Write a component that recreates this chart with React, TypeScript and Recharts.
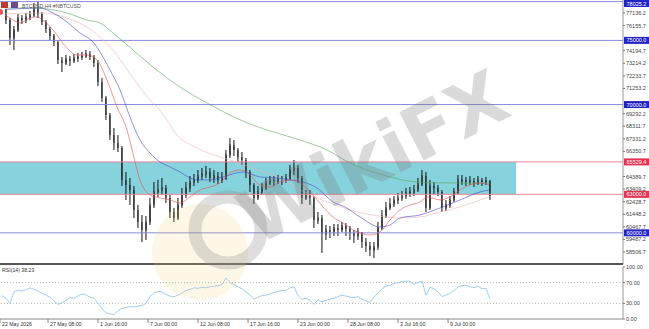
import React from 'react';
import { ComposedChart, LineChart, Bar, Line, XAxis, YAxis, ReferenceLine, ReferenceArea } from 'recharts';

// H4 candles
const firstOpen = 77526;
const closes = [
  77370, 76590, 75187, 75811, 76746, 76590, 76824, 76980, 77448, 77058,
  76434, 75889, 75343, 74875, 73473, 73239, 73551, 73395, 73628, 73706,
  73784, 73940, 73706, 73239, 71758, 70511, 69186, 67627, 67004, 66614,
  64120, 63730, 63340, 61782, 60846, 60223, 60846, 62171, 63185, 63340,
  63496, 62717, 61626, 61158, 62171, 62951, 63496, 63964, 64120, 64432,
  64587, 64743, 64276, 64432, 64120, 64276, 66068, 66848, 66458, 65912,
  65679, 64743, 63730, 62717, 63185, 63496, 63886, 64120, 64042, 64198,
  64120, 64276, 64899, 65055, 64276, 62717, 63029, 62717, 61002, 61158,
  59911, 60223, 60067, 60379, 60223, 60535, 60301, 59989, 59755, 60067,
  59288, 58976, 58664, 58898, 60379, 61314, 61938, 62249, 62561, 62717,
  62873, 63107, 63185, 63340, 63808, 64432, 61938, 63652, 63496, 63185,
  61938, 62171, 62561, 63185, 64120, 64120, 63964, 64042, 63886, 64120,
  63964, 64042, 62873,
];
const highs = [
  77603, 77448, 76746, 76123, 77058, 76980, 77136, 77292, 77915, 77993,
  77214, 76590, 76045, 75499, 75031, 73706, 73862, 73784, 73940, 74018,
  74096, 74252, 74174, 73862, 73473, 72070, 70667, 69342, 68173, 67627,
  66770, 64743, 64276, 63652, 62171, 61392, 61314, 62717, 63964, 64120,
  64276, 63730, 62951, 61938, 62717, 63496, 63964, 64432, 64587, 64899,
  65055, 65211, 65055, 64899, 64743, 64743, 66458, 67393, 67237, 66614,
  66302, 65834, 64899, 63886, 63652, 63886, 64276, 64432, 64432, 64510,
  64432, 64587, 65289, 65679, 65289, 64432, 63340, 63340, 62873, 61626,
  61392, 60613, 60535, 60690, 60690, 60846, 60768, 60535, 60223, 60379,
  60067, 59599, 59288, 59288, 60846, 61782, 62405, 62717, 62873, 63107,
  63262, 63496, 63574, 63730, 64276, 64899, 64743, 64120, 63964, 63730,
  63340, 62561, 62873, 63496, 64510, 64510, 64354, 64432, 64276, 64432,
  64276, 64354, 64120,
];
const lows = [
  77058, 76278, 74642, 74252, 75655, 76278, 76356, 76590, 76824, 76746,
  76200, 75577, 75031, 74564, 73161, 72537, 73083, 73005, 73239, 73317,
  73473, 73628, 73473, 72927, 71446, 70199, 68796, 67237, 66458, 66302,
  63652, 62561, 62171, 61158, 60379, 59288, 59443, 60613, 61938, 62795,
  62951, 62327, 61158, 60846, 61002, 61938, 62717, 63185, 63652, 63886,
  64120, 64276, 63964, 63886, 63808, 63886, 64120, 65834, 65990, 65523,
  65289, 64276, 63185, 62249, 62561, 62951, 63340, 63730, 63652, 63808,
  63730, 63886, 64120, 64510, 63886, 62249, 62561, 62171, 60379, 60690,
  58430, 59443, 59599, 59755, 59755, 60067, 59755, 59443, 59210, 59443,
  58820, 58508, 58196, 58041, 58664, 60223, 61158, 61782, 62015, 62249,
  62483, 62639, 62795, 62873, 63185, 63652, 61626, 61782, 63029, 62873,
  61626, 61704, 61938, 62405, 63029, 63730, 63652, 63730, 63574, 63730,
  63652, 63730, 62561,
];

const rsiValues = [
  45, 40, 30, 52, 55, 54, 56, 60, 57, 54,
  49, 46, 42, 35, 28, 31, 36, 41, 40, 45,
  48, 46, 42, 40, 30, 20, 12, 10, 8, 16,
  20, 22, 24, 23, 25, 26, 30, 44, 50, 53,
  52, 47, 44, 43, 46, 50, 55, 57, 60, 59,
  61, 60, 62, 63, 64, 66, 79, 70, 66, 62,
  58, 52, 46, 38, 42, 45, 46, 48, 51, 53,
  55, 55, 60, 62, 45, 38, 40, 36, 28, 37,
  33, 36, 38, 40, 43, 46, 44, 42, 41, 43,
  38, 35, 32, 42, 50, 58, 63, 65, 68, 70,
  72, 73, 72, 67, 70, 73, 46, 61, 58, 52,
  43, 46, 50, 55, 62, 64, 65, 62, 60, 63,
  58, 59, 38.23,
];

// moving averages: [bar index, price]
const maRed = [
  [-0.5, 77214], [2, 76746], [4.5, 76356], [7, 76746], [8.75, 76824], [10.25, 76590],
  [12.75, 75811], [16.25, 74408], [18.75, 73862], [21.25, 73862], [23.75, 73473],
  [26.25, 71914], [28.75, 69809], [31.25, 68017], [32.5, 66500], [34.5, 64120],
  [37, 62951], [39.5, 62717], [42, 62561], [44.5, 62327], [47, 62795], [49.5, 63340],
  [52, 63574], [54.5, 63886], [57, 64665], [59.5, 64899], [61.25, 64743], [64.5, 63730],
  [67, 63574], [69.5, 63964], [72.75, 64120], [75.25, 63730], [77.75, 62951],
  [80.25, 62016], [82.75, 61236], [85.25, 60769], [87, 60379], [89.5, 59989],
  [92, 59833], [94.5, 60067], [97, 61002], [99.5, 61782], [102, 62171], [104.5, 62405],
  [106.25, 62795], [109.5, 62561], [112, 62795], [114.5, 63340], [117, 63730],
  [119.5, 63886], [121.75, 63730],
];
const maBlue = [
  [-0.5, 77370], [9.5, 77525], [12.75, 77136], [16.25, 76434], [19.5, 75577],
  [22.75, 74876], [25.25, 73706], [27, 72693], [29.5, 71135], [32, 69030],
  [34.5, 67237], [37, 66224], [39.5, 65523], [42, 65133], [44.5, 64743], [47, 64276],
  [49.5, 64120], [52, 64120], [55.25, 64354], [60.25, 64743], [64.5, 64354],
  [68.75, 64276], [72, 64120], [75.25, 63964], [78.75, 63496], [82.75, 62405],
  [85.75, 62016], [89.5, 61236], [94.5, 60457], [97, 60613], [99.5, 61158],
  [104.5, 61392], [109.5, 61938], [114.5, 62561], [119.5, 63184], [121.75, 63340],
];
const maPink = [
  [-0.5, 77058], [10.25, 77136], [16.25, 76746], [21.25, 76044], [24.5, 75265],
  [27.75, 74252], [32.75, 72070], [37, 70355], [39.5, 69576], [43.75, 67627],
  [48.75, 66614], [54.5, 65912], [57, 65679], [62, 65133], [68.75, 64354],
  [77, 62951], [82, 62327], [87, 61782], [94.5, 61300], [99.5, 61158],
  [104.5, 61236], [109.5, 61626], [114.5, 62016], [119.5, 62561], [121.75, 62795],
];
const maGreen = [
  [-0.5, 77525], [7.75, 77525], [16.25, 77136], [21.25, 76590], [24.5, 76356],
  [27.75, 75577], [32.75, 74252], [37.75, 72927], [44.5, 71368], [51.25, 70121],
  [54.5, 69576], [60.75, 68640], [66.25, 68017], [74.5, 67237], [81.25, 66458],
  [87, 65445], [95.25, 64510], [103.75, 63964], [112, 63886], [121.75, 63886],
];

const blueLevels = [78025.2, 75000.0, 70000.0, 60000.0];
const redLevels = [65529.4, 63000.0];
const zoneLow = 63000.0;
const zoneHigh = 65529.4;
const zoneEnd = 128.5;

const priceTicks = [
  77136.2, 76155.7, 74194.7, 73214.2, 72233.7, 71253.2, 69292.2, 68311.7,
  67331.2, 66350.7, 64389.7, 63409.2, 62428.7, 61448.2, 60467.7, 59487.2, 58506.7,
];
const rsiTicks = [0, 30, 70, 100];
const timeLabels = [
  '22 May 2026', '27 May 08:00', '1 Jun 16:00', '7 Jun 00:00', '12 Jun 08:00',
  '17 Jun 16:00', '23 Jun 00:00', '28 Jun 08:00', '3 Jul 16:00', '9 Jul 00:00',
];

const candles = closes.map((c, i) => ({
  i,
  open: i === 0 ? firstOpen : closes[i - 1],
  close: c,
  high: highs[i],
  low: lows[i],
  range: [lows[i], highs[i]],
}));
const rsiData = rsiValues.map((v, i) => ({ i, rsi: v }));
const toPts = (arr: number[][]) => arr.map(([i, v]) => ({ i, v }));
const timeTicks = timeLabels.map((_, k) => (k === 0 ? -0.5 : 11.5 + 12.5 * (k - 1)));

const X_DOMAIN: [number, number] = [-0.5, 155.25];
const FONT = 'Liberation Sans, Arial, sans-serif';

const Candle = (props: any) => {
  const { x, y, width, height, payload } = props;
  const { open, close, high, low } = payload;
  const top = Math.min(y, y + height);
  const h = Math.abs(height);
  const cx = x + width / 2;
  const k = h / (high - low || 1);
  const bodyTop = top + (high - Math.max(open, close)) * k;
  const bodyH = Math.max(1, Math.abs(open - close) * k);
  const bull = close >= open;
  return (
    <g>
      <line x1={cx} x2={cx} y1={top} y2={top + h} stroke="#111" strokeWidth={1} />
      <rect x={x} y={bodyTop} width={width} height={bodyH} fill={bull ? '#fff' : '#111'} stroke="#111" strokeWidth={bull ? 0.7 : 0} />
    </g>
  );
};

const PriceTick = (props: any) => {
  const { x, y, payload } = props;
  return (
    <text x={x} y={y + 2} fontSize={5.5} fill="#444" fontFamily={FONT} textAnchor="start">
      {Number(payload.value).toFixed(1)}
    </text>
  );
};

const RsiTick = (props: any) => {
  const { x, y, payload } = props;
  return (
    <text x={x} y={y + 2} fontSize={5.5} fill="#444" fontFamily={FONT} textAnchor="start">
      {Number(payload.value).toFixed(2)}
    </text>
  );
};

const TimeTick = (props: any) => {
  const { x, y, index } = props;
  return (
    <g>
      <line x1={x} x2={x} y1={y} y2={y + 4} stroke="#666" strokeWidth={0.8} />
      <text x={x + 2} y={y + 7} fontSize={5.2} fill="#333" fontFamily={FONT} textAnchor="start">
        {timeLabels[index]}
      </text>
    </g>
  );
};

const levelTag = (value: number, color: string) => (p: any) => {
  const vb = p.viewBox || {};
  const x = (vb.x || 0) + (vb.width || 0) + 1;
  const y = Math.max(3.5, vb.y || 0);
  return (
    <g>
      <rect x={x} y={y - 3.5} width={25} height={7} fill={color} />
      <text x={x + 12.5} y={y + 2} fontSize={5.5} fill="#fff" fontFamily={FONT} textAnchor="middle">
        {value.toFixed(1)}
      </text>
    </g>
  );
};

export default function App() {
  return (
    <div style={{ position: 'absolute', left: 0, top: 0, width: 649, height: 329, background: '#fff', overflow: 'hidden' }}>
      <ComposedChart width={649} height={264} data={candles} margin={{ top: 0, right: 0, left: 0, bottom: 0 }}>
        <XAxis dataKey="i" type="number" domain={X_DOMAIN} hide allowDataOverflow />
        <YAxis
          orientation="right"
          width={26}
          domain={[57571, 78149]}
          allowDataOverflow
          ticks={priceTicks}
          interval={0}
          tick={<PriceTick />}
          tickSize={2}
          tickMargin={1}
          tickLine={{ stroke: '#777' }}
          axisLine={{ stroke: '#999' }}
        />
        <ReferenceArea x1={-0.5} x2={zoneEnd} y1={zoneLow} y2={zoneHigh} fill="#86d2dd" fillOpacity={1} stroke="none" />
        {blueLevels.map((v) => (
          <ReferenceLine key={v} y={v} stroke="#8a8ad8" strokeWidth={1} label={levelTag(v, '#2424c4')} />
        ))}
        {redLevels.map((v) => (
          <ReferenceLine key={v} y={v} stroke="#e58a97" strokeWidth={1} label={levelTag(v, '#e2334f')} />
        ))}
        <Line data={toPts(maGreen)} dataKey="v" type="monotone" stroke="#5aa85a" strokeWidth={0.6} dot={false} isAnimationActive={false} />
        <Line data={toPts(maPink)} dataKey="v" type="monotone" stroke="#eeb0b6" strokeWidth={0.6} dot={false} isAnimationActive={false} />
        <Line data={toPts(maBlue)} dataKey="v" type="monotone" stroke="#4848cc" strokeWidth={0.6} dot={false} isAnimationActive={false} />
        <Line data={toPts(maRed)} dataKey="v" type="monotone" stroke="#e45050" strokeWidth={0.6} dot={false} isAnimationActive={false} />
        <Bar dataKey="range" barSize={3} shape={<Candle />} isAnimationActive={false} />
      </ComposedChart>

      <div style={{ position: 'absolute', left: 0, top: 262.5, width: 623, height: 2, background: '#555' }} />

      <LineChart width={649} height={65} data={rsiData} margin={{ top: 3, right: 0, left: 0, bottom: 0 }}>
        <XAxis
          dataKey="i"
          type="number"
          domain={X_DOMAIN}
          allowDataOverflow
          ticks={timeTicks}
          interval={0}
          tick={<TimeTick />}
          tickSize={0}
          tickMargin={0}
          tickLine={false}
          height={10}
          axisLine={{ stroke: '#888' }}
        />
        <YAxis
          orientation="right"
          width={26}
          domain={[0, 100]}
          ticks={rsiTicks}
          interval={0}
          tick={<RsiTick />}
          tickSize={2}
          tickMargin={1}
          tickLine={{ stroke: '#777' }}
          axisLine={{ stroke: '#999' }}
        />
        <ReferenceLine y={70} stroke="#bbb" strokeDasharray="1 2" />
        <ReferenceLine y={30} stroke="#bbb" strokeDasharray="1 2" />
        <Line dataKey="rsi" type="linear" stroke="#78b8ee" strokeWidth={0.7} dot={false} isAnimationActive={false} />
      </LineChart>

      <svg width={649} height={329} style={{ position: 'absolute', left: 0, top: 0, pointerEvents: 'none' }}>
        <rect x={1} y={2} width={7} height={6} fill="#c0392b" />
        <rect x={11} y={2} width={7} height={6} fill="#6b4a8a" />
        <text x={22} y={7.5} fontSize={5.2} fill="#555" fontFamily={FONT}>BTCUSD,H4  #NBTCUSD</text>
        <text x={2} y={272} fontSize={5.2} fill="#333" fontFamily={FONT}>RSI(14) 38.23</text>
        <circle cx={200} cy={252} r={48} fill="#f6d27c" fillOpacity={0.18} />
        <circle cx={228} cy={230} r={33} fill="none" stroke="#8a8a8a" strokeOpacity={0.28} strokeWidth={13} />
        <text x={256} y={246} transform="rotate(-27 256 246)" fontSize={74} fontWeight="bold" fill="#7a7a7a" fillOpacity={0.28} fontFamily="DejaVu Sans, sans-serif">
          WikiFX
        </text>
      </svg>
    </div>
  );
}
